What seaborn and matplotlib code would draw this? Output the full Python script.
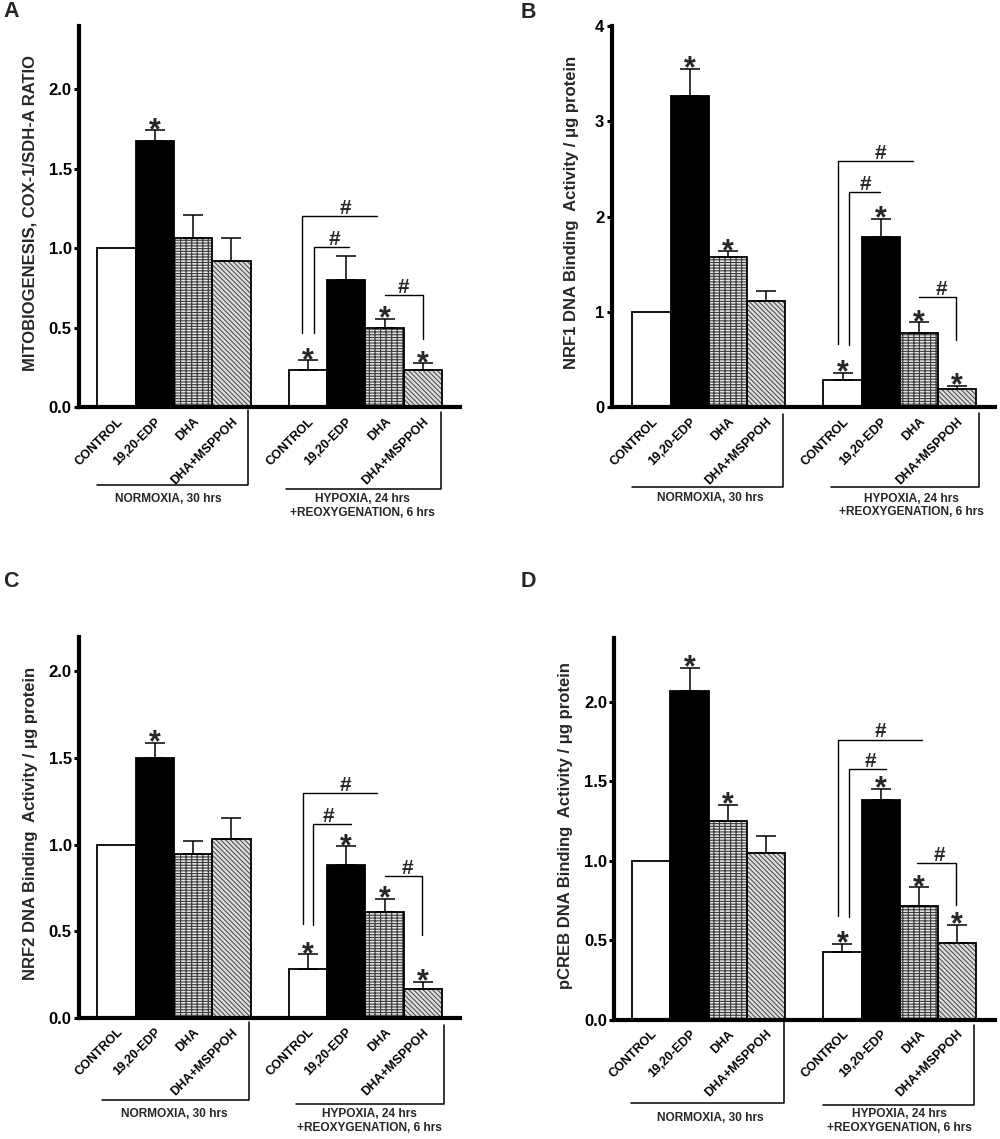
import numpy as np
import pandas as pd
import matplotlib
matplotlib.use("Agg")
import matplotlib.pyplot as plt
import seaborn as sns

# ---------------- data ----------------
treatments = ["CONTROL", "19,20-EDP", "DHA", "DHA+MSPPOH"]
conditions = ["NORMOXIA, 30 hrs", "HYPOXIA, 24 hrs\n+REOXYGENATION, 6 hrs"]
positions = [0, 1, 2, 3, 5, 6, 7, 8]

a_mean = [1.0, 1.676, 1.067, 0.920, 0.238, 0.801, 0.501, 0.238]
a_sem = [0.0, 0.067, 0.145, 0.143, 0.058, 0.151, 0.058, 0.041]
a_star = [0, 1, 0, 0, 1, 0, 1, 1]

b_mean = [1.0, 3.267, 1.578, 1.116, 0.282, 1.791, 0.780, 0.191]
b_sem = [0.0, 0.282, 0.057, 0.104, 0.083, 0.184, 0.115, 0.036]
b_star = [0, 1, 1, 0, 1, 1, 1, 1]

c_mean = [1.0, 1.503, 0.945, 1.032, 0.281, 0.883, 0.614, 0.166]
c_sem = [0.0, 0.085, 0.078, 0.124, 0.086, 0.108, 0.075, 0.043]
c_star = [0, 1, 0, 0, 1, 1, 1, 1]

d_mean = [1.0, 2.067, 1.251, 1.051, 0.423, 1.384, 0.714, 0.481]
d_sem = [0.0, 0.147, 0.102, 0.105, 0.054, 0.069, 0.119, 0.117]
d_star = [0, 1, 1, 0, 1, 1, 1, 1]

ylabels = ["MITOBIOGENESIS, COX-1/SDH-A RATIO",
           "NRF1 DNA Binding  Activity / \u03bcg protein",
           "NRF2 DNA Binding  Activity / \u03bcg protein",
           "pCREB DNA Binding  Activity / \u03bcg protein"]
panel_letters = ["A", "B", "C", "D"]

# ---------------- style ----------------
sns.set_theme(style="white")
plt.rcParams["font.family"] = ["Liberation Sans", "DejaVu Sans"]
plt.rcParams["font.weight"] = "bold"
plt.rcParams["hatch.linewidth"] = 0.8

bar_style = {
    "CONTROL": ("white", "", "black"),
    "19,20-EDP": ("black", "", "black"),
    "DHA": ("#e4e4e4", "------|||", "#3c3c3c"),
    "DHA+MSPPOH": ("#dedede", "\\\\\\\\\\\\\\", "#505050"),
}

W, HF = 1000, 1139
fig = plt.figure(figsize=(W / 100, HF / 100), dpi=100)

panels = [
    dict(mean=a_mean, sem=a_sem, star=a_star, rect=(79, 25.8, 460, 407.4),
         xlim=(-0.978, 8.97), ylim=(0, 2.4), yticks=[0, 0.5, 1.0, 1.5, 2.0], fmt="{:.1f}",
         ylab_x=-0.1286,
         brackets=[(4.85, 6.80, 1.205, 0.471, "L", 5.99),
                   (5.17, 6.06, 1.009, 0.471, "L", 5.69),
                   (7.02, 8.00, 0.704, 0.428, "R", 7.50)],
         groups=[(-0.5, 3.44, 78.0, 2.4, 1.35, 91.6),
                 (4.43, 8.47, 82.0, 4.5, 6.43, 98.8)],
         letter=(3, 1)),
    dict(mean=b_mean, sem=b_sem, star=b_star, rect=(611.7, 25.8, 995, 407.4),
         xlim=(-1.04, 8.99), ylim=(0, 4.0), yticks=[0, 1, 2, 3, 4], fmt="{:.0f}",
         ylab_x=-0.106,
         brackets=[(4.88, 6.84, 2.581, 0.668, "L", 5.98),
                   (5.18, 5.98, 2.260, 0.653, "L", 5.59),
                   (7.01, 7.97, 1.159, 0.704, "R", 7.58)],
         groups=[(-0.5, 3.45, 79.5, 6.9, 1.55, 91.0),
                 (4.69, 8.56, 80.0, 5.9, 6.80, 98.0)],
         letter=(520.7, 2)),
    dict(mean=c_mean, sem=c_sem, star=c_star, rect=(79, 636.8, 460, 1018),
         xlim=(-0.978, 8.97), ylim=(0, 2.2), yticks=[0, 0.5, 1.0, 1.5, 2.0], fmt="{:.1f}",
         ylab_x=-0.1286,
         brackets=[(4.86, 6.80, 1.296, 0.544, "L", 5.99),
                   (5.14, 6.12, 1.119, 0.537, "L", 5.53),
                   (7.01, 7.99, 0.817, 0.480, "R", 7.59)],
         groups=[(-0.385, 3.47, 82.0, 3.7, 1.51, 96.0),
                 (4.69, 8.54, 86.0, 6.6, 6.60, 103.2)],
         letter=(3, 571)),
    dict(mean=d_mean, sem=d_sem, star=d_star, rect=(614.3, 638.3, 995, 1019.7),
         xlim=(-0.97, 8.99), ylim=(0, 2.4), yticks=[0, 0.5, 1.0, 1.5, 2.0], fmt="{:.1f}",
         ylab_x=-0.127,
         brackets=[(4.88, 7.08, 1.763, 0.651, "L", 5.98),
                   (5.16, 6.13, 1.577, 0.644, "L", 5.72),
                   (6.95, 7.97, 0.984, 0.721, "R", 7.54)],
         groups=[(-0.54, 3.47, 83.0, 0.0, 1.55, 98.6),
                 (4.48, 8.43, 85.0, 5.0, 6.48, 101.3)],
         letter=(520.7, 571)),
]

for k, p in enumerate(panels):
    l, t, r, b = p["rect"]
    ax = fig.add_axes([l / W, 1 - b / HF, (r - l) / W, (b - t) / HF])
    hpx = b - t
    df = pd.DataFrame({"pos": positions, "value": p["mean"],
                       "treatment": treatments * 2})
    sns.barplot(data=df, x="pos", y="value", native_scale=True, width=1.0,
                errorbar=None, color="white", linewidth=0, ax=ax, zorder=1)
    for patch, tr_name in zip(ax.patches, df["treatment"]):
        face, hatch, hcol = bar_style[tr_name]
        patch.set_facecolor(face)
        patch.set_hatch(hatch)
        patch.set_edgecolor(hcol)
        patch.set_linewidth(0)
    sns.barplot(data=df, x="pos", y="value", native_scale=True, width=1.0,
                errorbar=None, fill=False, color="black", linewidth=1.3,
                ax=ax, zorder=2)

    mean = np.array(p["mean"])
    sem = np.array(p["sem"])
    pos = np.array(positions)
    m = sem > 0
    ax.errorbar(pos[m], mean[m], yerr=[np.zeros(m.sum()), sem[m]], fmt="none",
                ecolor="black", elinewidth=1.1, capsize=7, capthick=1.1, zorder=3)

    for x, y, s, st in zip(pos, mean, sem, p["star"]):
        if st:
            ax.annotate("*", (x, y + s), xytext=(0, -6.3), textcoords="offset points",
                        ha="center", va="baseline", fontsize=22, fontweight="bold",
                        annotation_clip=False)

    for x0, x1, ytop, yleg, side, hx in p["brackets"]:
        if side == "L":
            ax.plot([x0, x0, x1], [yleg, ytop, ytop], color="black", lw=1.0, zorder=3)
        else:
            ax.plot([x0, x1, x1], [ytop, ytop, yleg], color="black", lw=1.0, zorder=3)
        ax.annotate("#", (hx, ytop), xytext=(0, 1.5), textcoords="offset points",
                    ha="center", va="baseline", fontsize=15, fontweight="bold")

    trx = ax.get_xaxis_transform()
    for (x0, x1, hy, vy, tx, ty), label in zip(p["groups"], conditions):
        ax.plot([x0, x1, x1], [-hy / hpx, -hy / hpx, -vy / hpx], transform=trx,
                clip_on=False, color="black", lw=1.1)
        ax.text(tx, -ty / hpx, label, transform=trx, ha="center", va="center",
                fontsize=8.6, fontweight="bold", multialignment="center")

    ax.set_xlim(*p["xlim"])
    ax.set_ylim(*p["ylim"])
    ax.set_yticks(p["yticks"])
    ax.set_yticklabels([p["fmt"].format(v) for v in p["yticks"]])
    ax.set_xticks(positions)
    ax.set_xticklabels(treatments * 2, rotation=45, ha="right",
                       rotation_mode="anchor")
    ax.set_xlabel("")
    ax.set_ylabel(ylabels[k], fontsize=12, fontweight="bold")
    ax.yaxis.set_label_coords(p["ylab_x"], 0.51)
    ax.yaxis.label.set_va("center")

    sns.despine(ax=ax)
    for sp in ("left", "bottom"):
        ax.spines[sp].set_linewidth(3)
        ax.spines[sp].set_color("black")
    ax.tick_params(axis="y", left=True, direction="out", length=3.6, width=2.2,
                   pad=1.7, labelsize=12, color="black", labelcolor="black")
    ax.tick_params(axis="x", bottom=False, length=0, pad=6, labelsize=9,
                   labelcolor="black")
    for lab in ax.get_xticklabels() + ax.get_yticklabels():
        lab.set_fontweight("bold")
    ax.set_facecolor("white")
    ax.grid(False)

    lx, ly = p["letter"]
    fig.text(lx / W, 1 - ly / HF, panel_letters[k], ha="left", va="top",
             fontsize=15.5, fontweight="bold")

fig.savefig("out.png", dpi=100, facecolor="white")
